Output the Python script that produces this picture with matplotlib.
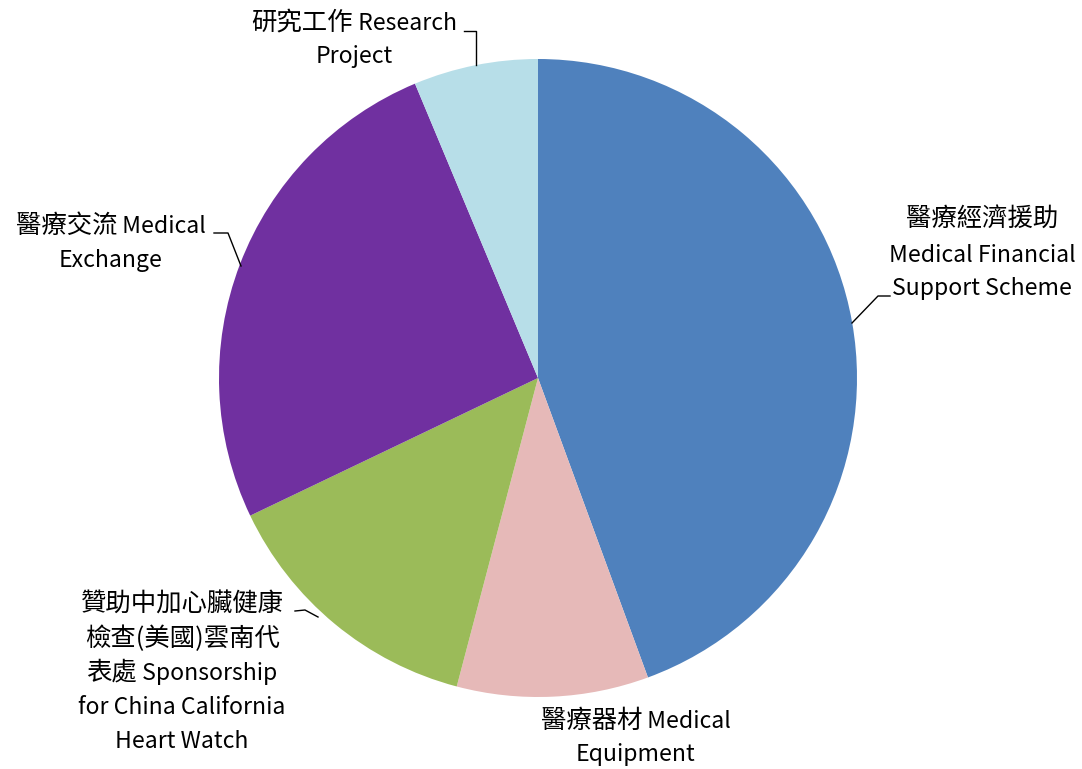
import matplotlib
matplotlib.use("Agg")
import matplotlib.pyplot as plt
from matplotlib.offsetbox import TextArea, HPacker, AnnotationBbox

plt.rcParams['font.family'] = ['Noto Sans CJK TC', 'DejaVu Sans']

categories = ["Medical Financial Support Scheme", "Medical Equipment",
              "Sponsorship for China California Heart Watch",
              "Medical Exchange", "Research Project"]
values = [44.4, 9.7, 13.8, 25.8, 6.3]
colors = ["#4F81BD", "#E6B9B8", "#9BBB59", "#7030A0", "#B7DEE8"]

W, H = 1082, 769
fig = plt.figure(figsize=(W / 100, H / 100), dpi=100)
ax = fig.add_axes([0, 0, 1, 1])

cx, cy, r = 538, H - 378, 319
ax.pie(values, colors=colors, startangle=90, counterclock=False,
       center=(cx, cy), radius=r, frame=True,
       wedgeprops=dict(linewidth=0))
ax.set_xlim(0, W)
ax.set_ylim(0, H)
ax.set_aspect('equal')
ax.axis('off')

fs_lat = 16.6
fs_cjk = 18.3

def is_cjk(ch):
    return ord(ch) > 0x2E80

def split_runs(t):
    runs = []
    for ch in t:
        kind = is_cjk(ch) or ch in "()"
        if ch in "()":
            kind = True
        if runs and runs[-1][0] == kind:
            runs[-1][1] += ch
        else:
            runs.append([kind, ch])
    return runs

def line(x, y, t):
    runs = split_runs(t)
    children = []
    for kind, s in runs:
        children.append(TextArea(s, textprops=dict(
            fontsize=fs_cjk if kind else fs_lat, color='black')))
    box = HPacker(children=children, align='baseline', pad=0, sep=0)
    ab = AnnotationBbox(box, (x, H - y), xycoords='data', frameon=False,
                        box_alignment=(0.5, 0.5), pad=0)
    ax.add_artist(ab)

def lines(x, ys, texts):
    for y, t in zip(ys, texts):
        line(x, y, t)

def leader(pts):
    xs = [p[0] for p in pts]
    ys = [H - p[1] for p in pts]
    ax.plot(xs, ys, color='black', lw=1)

lines(982, [219, 255, 288], ["醫療經濟援助", "Medical Financial", "Support Scheme"])
leader([(890, 296), (878, 296), (852, 323)])

lines(636, [721, 754], ["醫療器材 Medical", "Equipment"])

lines(182, [605, 639, 673, 708, 741],
      ["贊助中加心臟健康", "檢查(美國)雲南代", "表處 Sponsorship",
       "for China California", "Heart Watch"])
leader([(295, 611), (305, 610), (318, 617)])

lines(111, [226, 260], ["醫療交流 Medical", "Exchange"])
leader([(214, 233), (228, 233), (241, 266)])

lines(354, [23, 57], ["研究工作 Research", "Project"])
leader([(464, 31), (476, 31), (476, 65)])

fig.savefig("out.png", dpi=100)
